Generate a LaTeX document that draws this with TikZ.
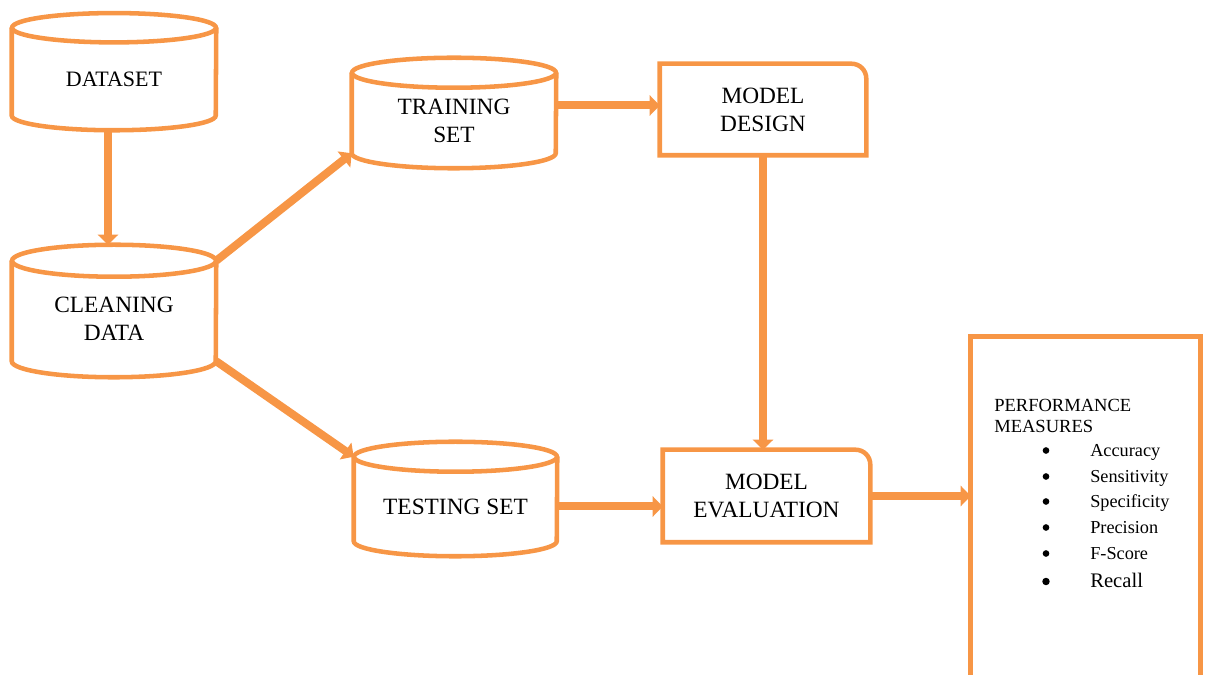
\documentclass[tikz,border=0pt]{standalone}
\usepackage{fontspec}
\setmainfont{Liberation Serif}
\usetikzlibrary{arrows.meta,calc}
\definecolor{acc}{HTML}{F79646}
\tikzset{
  outline/.style={draw=acc, line width=3.4pt},
  body/.style={inner sep=0pt, align=center, font=\fontsize{17.5}{21}\selectfont},
  flow/.style={draw=acc, line width=6pt, -{Triangle[width=15pt,length=7.5pt]}},
  perftext/.style={inner sep=0pt, anchor=base west},
  bulletmark/.style={circle, fill=black, inner sep=0pt, minimum size=5pt},
}
\newcommand\mycyl[3]{% node, x radius, y radius
  \draw[outline] (#1.north west) -- ([yshift=#3]#1.south west)
    arc[start angle=180,end angle=360,x radius=#2,y radius=#3] -- (#1.north east);
  \draw[outline] (#1.north) ellipse[x radius=#2, y radius=#3];
}
\newcommand\myrbox[1]{%
  \draw[outline] (#1.south west) -- (#1.north west) -- ([xshift=-11pt]#1.north east)
    arc[start angle=90,end angle=0,radius=11pt] -- (#1.south east) -- cycle;
}
\begin{document}
\begin{tikzpicture}[x=0.75pt,y=0.75pt]
\useasboundingbox (0,0) rectangle (1208,675);

% nodes
\node[body, minimum width=153pt, minimum height=76.5pt, font=\fontsize{16.5}{19}\selectfont] (data) at (114,596) {DATASET};
\node[body, minimum width=153pt, minimum height=87pt] (clean) at (114,356) {CLEANING\\DATA};
\node[body, minimum width=153pt, minimum height=71.25pt] (train) at (454,554.5) {TRAINING\\SET};
\node[body, minimum width=152.25pt, minimum height=74.25pt] (test) at (455.5,168.5) {TESTING SET};
\node[body, minimum width=154.5pt, minimum height=68.25pt] (design) at (763,565.5) {MODEL\\DESIGN};
\node[body, minimum width=155.25pt, minimum height=69pt] (eval) at (766.5,179) {MODEL\\EVALUATION};
\node[inner sep=0pt, minimum width=171.75pt, minimum height=253.5pt] (perf) at (1085.5,169) {};

% outlines
\mycyl{data}{76.5pt}{11pt}
\mycyl{clean}{76.5pt}{12pt}
\mycyl{train}{76.5pt}{11.25pt}
\mycyl{test}{76.125pt}{11.25pt}
\myrbox{design}
\myrbox{eval}
\draw[outline] (perf.south west) -- (perf.north west) -- (perf.north east) -- (perf.south east);

% performance text
\node[perftext, font=\fontsize{13.9}{16}\selectfont] (pt1) at (994,263) {PERFORMANCE};
\node[perftext, font=\fontsize{13.9}{16}\selectfont] (pt2) at (994,242) {MEASURES};
\foreach \t/\y/\s/\d [count=\i] in {Accuracy/218/13.7/5pt, Sensitivity/192/13.7/5pt, Specificity/167/13.7/5pt, Precision/141/13.7/5pt, F-Score/115/13.7/5pt, Recall/87/15.5/5.6pt}{
  \node[perftext, font=\fontsize{\s}{\s}\selectfont] (m\i) at (1090,\y) {\t};
  \node[bulletmark, minimum size=\d] (b\i) at (1046,\y+6.5) {};
}

% connectors
\draw[flow] ([xshift=-4.5pt]data.south) -- ([xshift=-4.5pt,yshift=12pt]clean.north);
\draw[flow] (clean.north east) -- ([yshift=11.25pt]train.south west);
\draw[flow] ([yshift=12pt]clean.south east) -- (test.north west);
\draw[flow] ([yshift=3pt]train.east |- design.west) -- ([yshift=3pt]design.west);
\draw[flow] (design.south) -- (design.south |- eval.north);
\draw[flow] (test.east) -- (test.east -| eval.west);
\draw[flow] (eval.east) -- (eval.east -| perf.west);
\end{tikzpicture}
\end{document}
